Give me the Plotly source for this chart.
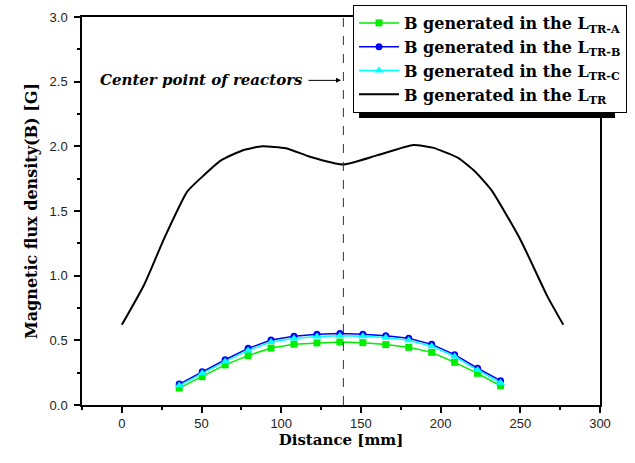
import plotly.graph_objects as go

# ---- data ----
x_tr = [0, 14, 27, 41, 50, 62, 76, 88, 103, 118, 139, 160, 183, 195, 211, 222, 232, 250, 267, 277]
b_tr = [0.62, 0.93, 1.30, 1.65, 1.76, 1.89, 1.97, 2.00, 1.985, 1.92, 1.86, 1.93, 2.01, 1.99, 1.91, 1.80, 1.66, 1.28, 0.84, 0.62]

x_pts = [36, 50.4, 64.8, 79.2, 93.6, 108, 122.4, 136.8, 151.2, 165.6, 180, 194.4, 208.8, 223.2, 237.6]
b_a = [0.131, 0.219, 0.310, 0.382, 0.440, 0.470, 0.480, 0.487, 0.482, 0.467, 0.446, 0.407, 0.330, 0.245, 0.149]
b_b = [0.162, 0.258, 0.350, 0.438, 0.503, 0.531, 0.547, 0.552, 0.548, 0.536, 0.516, 0.469, 0.389, 0.284, 0.188]
b_c = [0.150, 0.245, 0.337, 0.422, 0.487, 0.515, 0.530, 0.536, 0.532, 0.522, 0.500, 0.455, 0.375, 0.270, 0.172]

center_x = 139
x_ticks = [0, 50, 100, 150, 200, 250, 300]
y_ticks = [0.0, 0.5, 1.0, 1.5, 2.0, 2.5, 3.0]

names = [
    "<b>B generated in the L<sub>TR-A</sub></b>",
    "<b>B generated in the L<sub>TR-B</sub></b>",
    "<b>B generated in the L<sub>TR-C</sub></b>",
    "<b>B generated in the L<sub>TR</sub></b>",
]

serif = "DejaVu Serif"
sans = "Liberation Sans"

# plot-area geometry in pixels (used to place paper-referenced items)
L, R, T, B = 82, 600, 17, 405
PW, PH = R - L, B - T

def px(xp):
    return (xp - L) / PW

def py(yp):
    return (B - yp) / PH

fig = go.Figure()
fig.add_trace(go.Scatter(x=x_pts, y=b_a, mode="lines+markers", name=names[0],
                         line=dict(color="#00ee00", width=1.5),
                         marker=dict(symbol="square", size=7, color="#00ee00")))
fig.add_trace(go.Scatter(x=x_pts, y=b_b, mode="lines+markers", name=names[1],
                         line=dict(color="#0000ff", width=1.5),
                         marker=dict(symbol="circle", size=7, color="#0000ff")))
fig.add_trace(go.Scatter(x=x_pts, y=b_c, mode="lines+markers", name=names[2],
                         line=dict(color="#00ffff", width=1.5),
                         marker=dict(symbol="triangle-up", size=8, color="#00ffff")))
fig.add_trace(go.Scatter(x=x_tr, y=b_tr, mode="lines", name=names[3],
                         line=dict(color="black", width=2, shape="spline", smoothing=0.5)))

# dashed center line
fig.add_shape(type="line", xref="x", yref="y", x0=center_x, x1=center_x, y0=0, y1=3,
              line=dict(color="#333333", width=1, dash="dash"))

# legend shadow
fig.add_shape(type="rect", xref="paper", yref="paper",
              x0=px(359), x1=px(615), y0=py(118), y1=py(11),
              fillcolor="black", line=dict(width=0), layer="above")

# annotation
fig.add_annotation(x=center_x - 1.5, y=2.51, ax=-34, ay=0, xref="x", yref="y",
                   text="", showarrow=True, arrowhead=2, arrowsize=1, arrowwidth=1,
                   arrowcolor="black")
fig.add_annotation(x=center_x - 24, y=2.51, xref="x", yref="y", xanchor="right",
                   text="<i><b>Center point of reactors</b></i>", showarrow=False,
                   font=dict(family=serif, size=15, color="black"))

axis_common = dict(showline=True, linecolor="black", linewidth=1.5, mirror=True,
                   ticks="outside", ticklen=6, tickwidth=1.5, tickcolor="black",
                   showgrid=False, zeroline=False,
                   tickfont=dict(family=sans, size=13, color="#222222"))

fig.update_xaxes(range=[-25, 300], tickvals=x_ticks, ticktext=[str(v) for v in x_ticks],
                 minor=dict(ticks="outside", ticklen=3, dtick=25, tick0=0, tickcolor="black"),
                 title=dict(text="<b>Distance [mm]</b>", font=dict(family=serif, size=15, color="black"), standoff=4),
                 **axis_common)
fig.update_yaxes(range=[0, 3], tickvals=y_ticks, ticktext=[f"{v:.1f}" for v in y_ticks],
                 ticklabelstandoff=4,
                 minor=dict(ticks="outside", ticklen=3, dtick=0.25, tick0=0, tickcolor="black"),
                 title=dict(text="<b>Magnetic flux density(B) [G]</b>", font=dict(family=serif, size=16, color="black"), standoff=8),
                 **axis_common)

fig.update_layout(
    width=635, height=463,
    margin=dict(l=L, r=635 - R, t=T, b=463 - B, autoexpand=False),
    plot_bgcolor="white", paper_bgcolor="white",
    showlegend=True,
    legend=dict(x=px(353), y=py(5), xanchor="left", yanchor="top",
                bgcolor="white", bordercolor="black", borderwidth=1,
                font=dict(family=serif, size=16, color="black"),
                tracegroupgap=0, itemwidth=40),
)

fig.write_html("out.html", config={"displayModeBar": False},
               post_script="document.body.style.margin='0';document.body.style.padding='0';")
